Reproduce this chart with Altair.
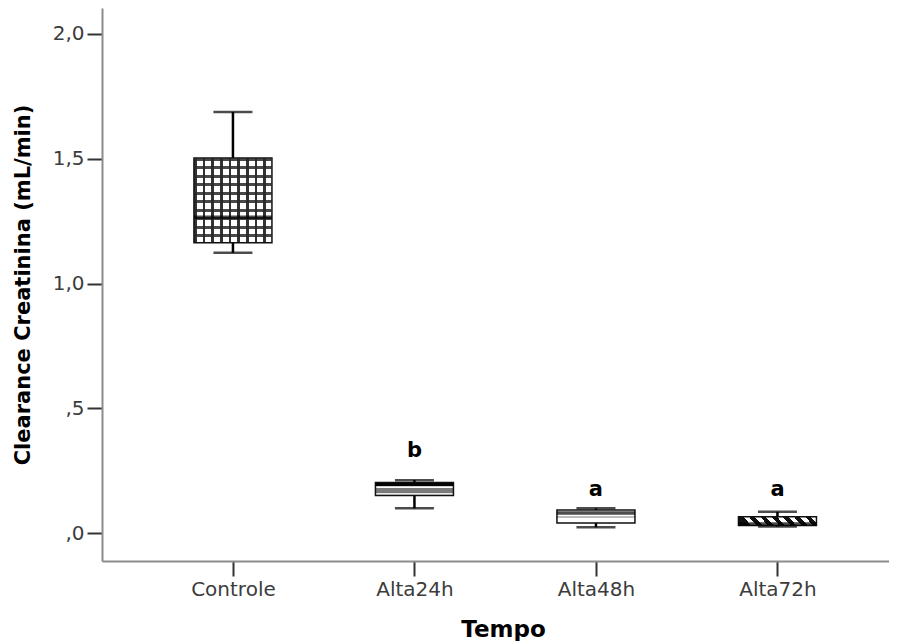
import altair as alt
import pandas as pd

# ---- data ----
categories = ["Controle", "Alta24h", "Alta48h", "Alta72h"]
whisker_low = [1.123, 0.099, 0.023, 0.026]
q1 = [1.163, 0.150, 0.040, 0.030]
median = [1.265, 0.195, 0.080, 0.036]
q3 = [1.503, 0.203, 0.092, 0.065]
whisker_high = [1.687, 0.212, 0.099, 0.085]

letter_cats = ["Alta24h", "Alta48h", "Alta72h"]
letters = ["b", "a", "a"]
letter_y = [0.305, 0.148, 0.148]

y_ticks = [0.0, 0.5, 1.0, 1.5, 2.0]

df = pd.DataFrame({
    "cat": categories, "lo": whisker_low, "q1": q1, "med": median,
    "q3": q3, "hi": whisker_high,
})
df_letters = pd.DataFrame({"cat": letter_cats, "txt": letters, "y": letter_y})


def stripes(n, frac, on, off, x1, y1, x2, y2):
    stops = []
    for i in range(n):
        a = i / n
        b = (i + frac) / n
        c = (i + 1) / n
        stops += [
            {"offset": a, "color": on}, {"offset": b, "color": on},
            {"offset": b, "color": off}, {"offset": c, "color": off},
        ]
    return {"gradient": "linear", "x1": x1, "y1": y1, "x2": x2, "y2": y2, "stops": stops}


def bands(pairs):
    stops = []
    for (start, end, col) in pairs:
        stops += [{"offset": start, "color": col}, {"offset": end, "color": col}]
    return {"gradient": "linear", "x1": 0, "y1": 0, "x2": 0, "y2": 1, "stops": stops}


BOX_W = 78
CAP_W = 39

x_enc = alt.X(
    "cat:N", sort=categories,
    scale=alt.Scale(type="point", padding=0.668, align=0.54),
    axis=alt.Axis(title="Tempo", labelAngle=0, titleX=401, titleAlign="center"),
)
y_scale = alt.Scale(domain=[-0.112, 2.104], nice=False, zero=False)
y_axis = alt.Axis(
    title="Clearance Creatinina (mL/min)", values=y_ticks,
    labelExpr="datum.value < 1 ? replace(format(datum.value, '.1f'), '0.', ',') : replace(format(datum.value, '.1f'), '.', ',')",
)

base = alt.Chart(df).encode(x=x_enc)

whisker = base.mark_rule(color="black", strokeWidth=2.5).encode(
    y=alt.Y("lo:Q", scale=y_scale, axis=y_axis), y2="hi:Q"
)
cap_hi = base.mark_tick(size=CAP_W, thickness=2.5, color="black").encode(y=alt.Y("hi:Q"))
cap_lo = base.mark_tick(size=CAP_W, thickness=2.5, color="black").encode(y=alt.Y("lo:Q"))

fills = {
    "Controle": stripes(9, 0.32, "#333333", "#ffffff", 0, 0, 1, 0),
    "Alta24h": bands([(0, 0.3, "#111111"), (0.3, 0.42, "#ffffff"), (0.42, 0.78, "#7a7a7a"), (0.78, 1, "#e6e6e6")]),
    "Alta48h": bands([(0, 0.42, "#ffffff"), (0.42, 0.62, "#bdbdbd"), (0.62, 1, "#ffffff")]),
    "Alta72h": stripes(7, 0.5, "#111111", "#ffffff", 0, 0.103, 1, 0),
}

box_layers = []
for c in categories:
    box_layers.append(
        base.transform_filter(alt.datum.cat == c)
        .mark_bar(size=BOX_W, fill=fills[c], stroke="#111111", strokeWidth=1.5)
        .encode(y=alt.Y("q1:Q"), y2="q3:Q")
    )

grid_overlay = (
    base.transform_filter(alt.datum.cat == "Controle")
    .mark_bar(size=BOX_W, fill=stripes(10, 0.32, "rgba(40,40,40,0.85)", "rgba(255,255,255,0)", 0, 0, 0, 1),
              strokeWidth=0)
    .encode(y=alt.Y("q1:Q"), y2="q3:Q")
)

med = base.mark_tick(size=BOX_W, thickness=3.5, color="black").encode(y=alt.Y("med:Q"))

letters_layer = alt.Chart(df_letters).mark_text(
    font="DejaVu Sans", fontSize=21, fontWeight="bold", color="black", baseline="alphabetic"
).encode(x=x_enc, y=alt.Y("y:Q"), text="txt:N")

chart = alt.layer(
    whisker, cap_hi, cap_lo, *box_layers, grid_overlay, med, letters_layer
).properties(
    width=787, height=553,
    padding={"left": 4, "top": 0, "right": 0, "bottom": 0},
).configure_view(stroke=None).configure_axis(
    grid=False,
    domainColor="#8c8c8c", domainWidth=2,
    tickColor="#333333", tickWidth=2, tickSize=15,
    labelFont="DejaVu Sans", labelFontSize=20, labelColor="#3c3c3c", labelPadding=3,
    titleFont="DejaVu Sans", titleFontWeight="bold", titleColor="black",
).configure_axisY(
    titleFontSize=21, titlePadding=19,
).configure_axisX(
    titleFontSize=23, titlePadding=19,
)

chart.save("out.html", embed_options={"renderer": "svg", "actions": False})
